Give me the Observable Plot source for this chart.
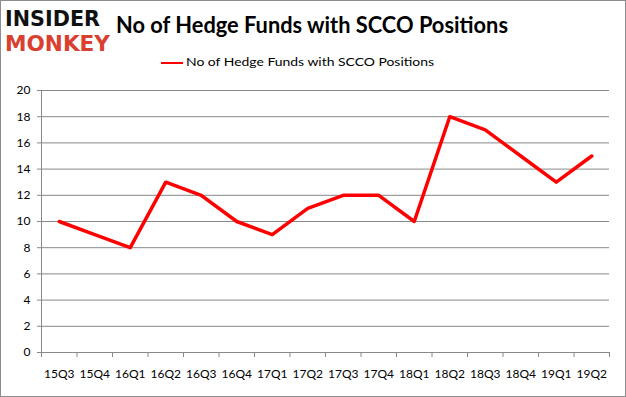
<!DOCTYPE html>
<html><head><meta charset="utf-8">
<script src="https://cdn.jsdelivr.net/npm/d3@7"></script>
<script src="https://cdn.jsdelivr.net/npm/@observablehq/plot@0.6"></script>
<style>
body{margin:0;background:#fff;}
#wrap{position:relative;width:626px;height:397px;overflow:hidden;background:#fff;font-family:Lato,"Open Sans",sans-serif;}
#border{position:absolute;left:0;top:0;width:626px;height:397px;box-sizing:border-box;border:1px solid #8c8c8c;pointer-events:none;}
.fit{position:absolute;white-space:nowrap;transform-origin:0 0;line-height:1;}
#logo{position:absolute;left:0;top:0;overflow:visible;}
#title{left:116px;top:14px;font-weight:bold;font-size:22px;color:#000;}
#legline{position:absolute;left:161px;top:62px;width:22px;height:2px;background:#ff0000;}
#legtext{left:186px;top:56px;font-size:12px;color:#000;}
#chart{position:absolute;left:0;top:80px;}
</style></head>
<body>
<div id="wrap">
  <svg id="logo" width="115" height="64">
    <text font-family="DejaVu Sans, sans-serif" font-weight="900" font-size="21"><tspan x="5" y="26" fill="#111" textLength="95" lengthAdjust="spacingAndGlyphs">INSIDER</tspan><tspan x="5" y="51" fill="#d9402f" textLength="105" lengthAdjust="spacingAndGlyphs">MONKEY</tspan></text>
  </svg>
  <div id="title" class="fit" data-w="392">No of Hedge Funds with SCCO Positions</div>
  <div id="legline"></div>
  <div id="legtext" class="fit" data-w="248">No of Hedge Funds with SCCO Positions</div>
  <div id="chart"></div>
  <div id="border"></div>
</div>
<script>
const quarters = ["15Q3","15Q4","16Q1","16Q2","16Q3","16Q4","17Q1","17Q2","17Q3","17Q4","18Q1","18Q2","18Q3","18Q4","19Q1","19Q2"];
const funds = [10, 9, 8, 13, 12, 10, 9, 11, 12, 12, 10, 18, 17, 15, 13, 15];
const yTicks = [0, 2, 4, 6, 8, 10, 12, 14, 16, 18, 20];

const data = quarters.map((q, i) => ({i, q, v: funds[i]}));
const bounds = d3.range(quarters.length + 1).map(i => i - 0.5);

const chart = Plot.plot({
  width: 626, height: 317,
  marginTop: 10, marginBottom: 45, marginLeft: 41, marginRight: 17,
  x: {type: "linear", domain: [-0.5, quarters.length - 0.5], axis: null},
  y: {domain: [0, 20], axis: null},
  style: {fontFamily: "Lato, 'Open Sans', sans-serif", fontSize: "12px", color: "#000", background: "transparent"},
  marks: [
    Plot.gridY(yTicks, {stroke: "#888", strokeOpacity: 1}),
    Plot.axisY(yTicks, {tickSize: 4, tickPadding: 7, stroke: "#888", fill: "#000", label: null}),
    Plot.ruleX([bounds[0]], {stroke: "#888"}),
    Plot.ruleY([0], {stroke: "#888"}),
    Plot.axisX(bounds, {tickSize: 5, tickFormat: () => "", stroke: "#888", label: null}),
    Plot.axisX(data.map(d => d.i), {tickSize: 0, tickPadding: 17, tickFormat: i => quarters[i], fill: "#000", label: null}),
    Plot.line(data, {x: "i", y: "v", stroke: "#ff0000", strokeWidth: 3.5})
  ]
});
document.getElementById("chart").appendChild(chart);

document.querySelectorAll(".fit").forEach(el => {
  const w = el.getBoundingClientRect().width;
  const target = +el.dataset.w;
  el.style.transform = `scaleX(${target / w})`;
});
</script>
</body></html>
